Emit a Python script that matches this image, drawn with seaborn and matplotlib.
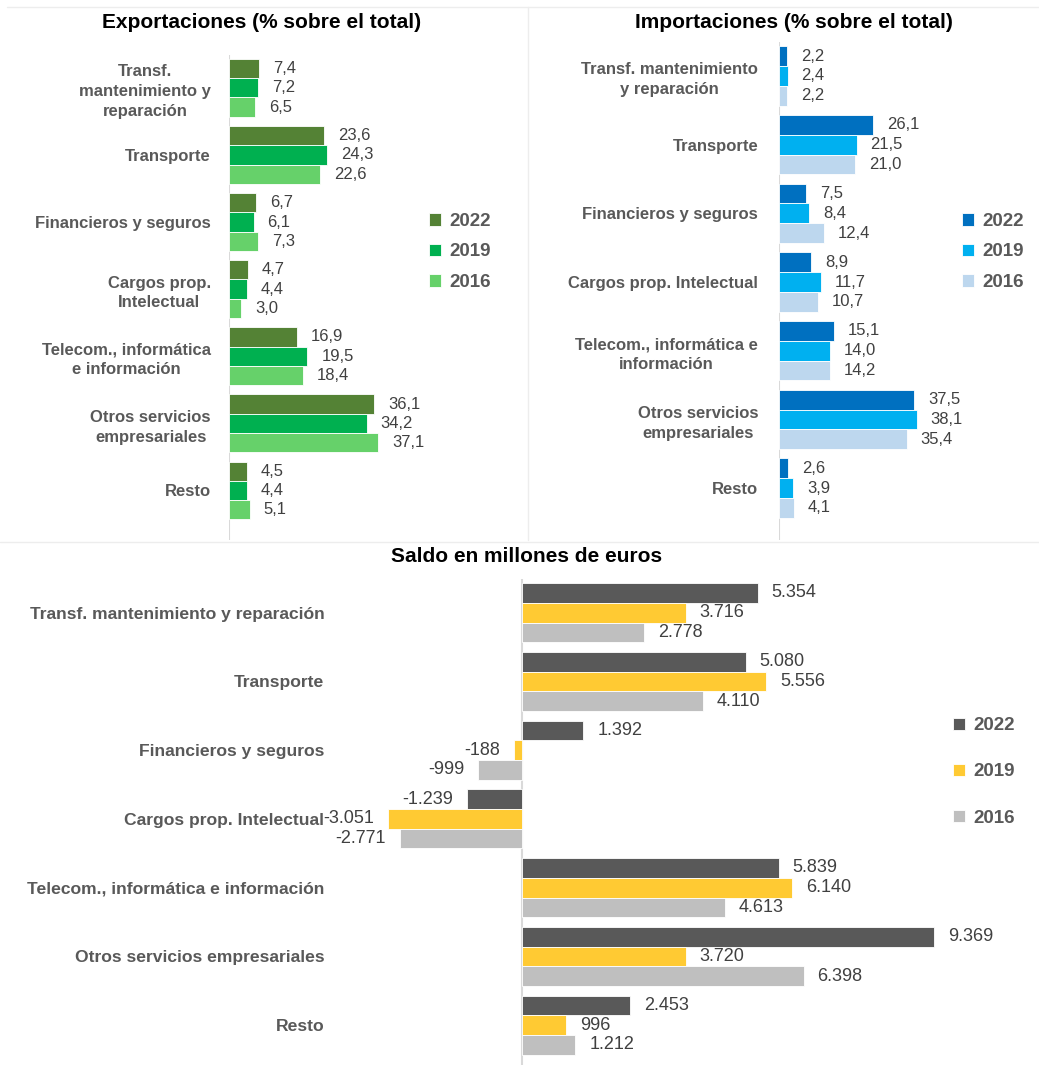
import pandas as pd
import matplotlib
matplotlib.use('Agg')
import matplotlib.pyplot as plt
import seaborn as sns
from matplotlib.lines import Line2D

# Datos
categorias = ['Transf. mantenimiento y reparación', 'Transporte', 'Financieros y seguros',
              'Cargos prop. Intelectual', 'Telecom., informática e información',
              'Otros servicios empresariales', 'Resto']
anios = ['2022', '2019', '2016']

etiquetas_exp = ['Transf.\nmantenimiento y\nreparación', 'Transporte', 'Financieros y seguros',
                 'Cargos prop.\nIntelectual', 'Telecom., informática\ne información',
                 'Otros servicios\nempresariales', 'Resto']
etiquetas_imp = ['Transf. mantenimiento\ny reparación', 'Transporte', 'Financieros y seguros',
                 'Cargos prop. Intelectual', 'Telecom., informática e\ninformación',
                 'Otros servicios\nempresariales', 'Resto']

exp_2022 = [7.4, 23.6, 6.7, 4.7, 16.9, 36.1, 4.5]
exp_2019 = [7.2, 24.3, 6.1, 4.4, 19.5, 34.2, 4.4]
exp_2016 = [6.5, 22.6, 7.3, 3.0, 18.4, 37.1, 5.1]

imp_2022 = [2.2, 26.1, 7.5, 8.9, 15.1, 37.5, 2.6]
imp_2019 = [2.4, 21.5, 8.4, 11.7, 14.0, 38.1, 3.9]
imp_2016 = [2.2, 21.0, 12.4, 10.7, 14.2, 35.4, 4.1]

saldo_2022 = [5354, 5080, 1392, -1239, 5839, 9369, 2453]
saldo_2019 = [3716, 5556, -188, -3051, 6140, 3720, 996]
saldo_2016 = [2778, 4110, -999, -2771, 4613, 6398, 1212]

col_exp = ['#548235', '#00B050', '#66D16A']
col_imp = ['#0070C0', '#00B0F0', '#BDD7EE']
col_saldo = ['#595959', '#FFCA33', '#BFBFBF']

FUENTE = ['Liberation Sans', 'DejaVu Sans']
GRIS = '#595959'
GRIS_TXT = '#404040'

W, H = 1039, 1070


def tabla(v22, v19, v16):
    return pd.DataFrame({
        'Categoria': categorias * 3,
        'Año': [a for a in anios for _ in categorias],
        'Valor': v22 + v19 + v16,
    })


def caja(izq, arr, der, abj):
    return [izq / W, 1 - abj / H, (der - izq) / W, (abj - arr) / H]


def dibujar(ax, df, colores, etiquetas, fmt, tam_cat, tam_val, pad_cat,
            ylim, xlim, leg_xy, leg_sp, tam_leg):
    sns.barplot(data=df, y='Categoria', x='Valor', hue='Año', hue_order=anios,
                order=categorias, orient='h', palette=colores, saturation=1,
                width=0.86, edgecolor='white', linewidth=0.6, ax=ax)
    ax.set_xlim(*xlim)
    ax.set_ylim(*ylim)
    ax.set_xlabel('')
    ax.set_ylabel('')
    ax.set_xticks([])
    ax.set_yticks(range(len(categorias)))
    ax.set_yticklabels(etiquetas, fontsize=tam_cat, fontweight='bold', color=GRIS)
    for t in ax.get_yticklabels():
        t.set_multialignment('center')
        t.set_linespacing(1.4)
    ax.tick_params(axis='y', length=0, pad=pad_cat)
    for s in ax.spines.values():
        s.set_visible(False)
    ax.axvline(0, color='#D9D9D9', lw=1.5, zorder=0)
    for cont in ax.containers:
        vals = [b.get_width() for b in cont]
        ax.bar_label(cont, labels=[fmt(v) for v in vals], padding=10,
                     fontsize=tam_val, color=GRIS_TXT)
    sns.move_legend(ax, 'center left', bbox_to_anchor=leg_xy,
                    bbox_transform=fig.transFigure, frameon=False, title=None,
                    handlelength=0.65, handleheight=0.65, handletextpad=0.45,
                    borderpad=0, borderaxespad=0,
                    labelspacing=leg_sp, labelcolor=GRIS,
                    prop={'family': FUENTE, 'weight': 'bold', 'size': tam_leg})


def fmt_pct(v):
    return f'{v:.1f}'.replace('.', ',')


def fmt_mill(v):
    return f'{int(round(v)):,}'.replace(',', '.')


sns.set_style('white')
plt.rcParams['font.family'] = FUENTE

fig = plt.figure(figsize=(W / 100, H / 100), dpi=100)

# Separadores de paneles
fig.add_artist(Line2D([7 / W, 1], [1 - 7 / H, 1 - 7 / H], color='#EDEDED', lw=1))
fig.add_artist(Line2D([528 / W, 528 / W], [1 - 7 / H, 1 - 540 / H], color='#EDEDED', lw=1))
fig.add_artist(Line2D([0, 1], [1 - 542 / H, 1 - 542 / H], color='#EDEDED', lw=1))

# Exportaciones
ax1 = fig.add_axes(caja(229, 55, 420, 540))
dibujar(ax1, tabla(exp_2022, exp_2019, exp_2016), col_exp, etiquetas_exp, fmt_pct,
        12, 12, 13, (6.74, -0.49), (0, (420 - 229) / 4.024),
        (429 / W, 1 - 252 / H), 0.72, 13.5)
fig.text(262 / W, 1 - 22 / H, 'Exportaciones (% sobre el total)', ha='center', va='center',
         fontsize=15, fontweight='bold', color='black')

# Importaciones
ax2 = fig.add_axes(caja(779, 42, 955, 540))
dibujar(ax2, tabla(imp_2022, imp_2019, imp_2016), col_imp, etiquetas_imp, fmt_pct,
        12, 12, 15, (6.757, -0.495), (0, (955 - 779.3) / 3.606),
        (962 / W, 1 - 252 / H), 0.72, 13.5)
fig.text(794 / W, 1 - 22 / H, 'Importaciones (% sobre el total)', ha='center', va='center',
         fontsize=15, fontweight='bold', color='black')

# Saldo
ax3 = fig.add_axes(caja(330, 579, 945, 1065))
dibujar(ax3, tabla(saldo_2022, saldo_2019, saldo_2016), col_saldo, categorias, fmt_mill,
        12.6, 13, 4, (6.58, -0.49), ((330 - 522) / 0.044, (945 - 522) / 0.044),
        (953 / W, 1 - 772 / H), 1.55, 13.5)
fig.text(527 / W, 1 - 557 / H, 'Saldo en millones de euros', ha='center', va='center',
         fontsize=15, fontweight='bold', color='black')

fig.savefig('out.png', dpi=100)
